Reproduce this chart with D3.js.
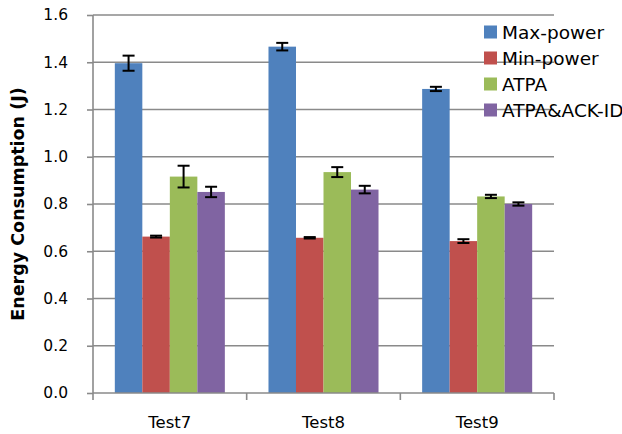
<!DOCTYPE html>
<html>
<head>
<meta charset="utf-8">
<script src="https://cdn.jsdelivr.net/npm/d3@7"></script>
<style>
  html, body { margin: 0; padding: 0; background: #fff; }
  svg { display: block; font-family: "DejaVu Sans", sans-serif; }
</style>
</head>
<body>
<svg id="chart" width="622" height="434"></svg>
<script>
const categories = ["Test7", "Test8", "Test9"];
const seriesNames = ["Max-power", "Min-power", "ATPA", "ATPA&ACK-ID"];
const colors = ["#4F81BD", "#C0504D", "#9BBB59", "#8064A2"];
const maxPower   = [1.396, 1.466, 1.287];
const minPower   = [0.662, 0.657, 0.643];
const atpa       = [0.916, 0.935, 0.832];
const atpaAck    = [0.851, 0.861, 0.800];
const maxPowerErr = [0.032, 0.016, 0.009];
const minPowerErr = [0.004, 0.003, 0.008];
const atpaErr     = [0.046, 0.021, 0.007];
const atpaAckErr  = [0.022, 0.016, 0.007];
const yTicks = [0, 0.2, 0.4, 0.6, 0.8, 1.0, 1.2, 1.4, 1.6];

const values = [maxPower, minPower, atpa, atpaAck];
const errs = [maxPowerErr, minPowerErr, atpaErr, atpaAckErr];

const svg = d3.select("#chart");
const pLeft = 93, pRight = 554, pTop = 15, pBottom = 393;

const x0 = d3.scaleBand().domain(categories).range([pLeft, pRight]).padding(0);
const bw = x0.bandwidth();
const gap = bw * 0.142;
const x1 = d3.scaleBand().domain(seriesNames).range([gap, bw - gap]).padding(0);
const y = d3.scaleLinear().domain([0, 1.6]).range([pBottom, pTop]);

// gridlines
svg.append("g").selectAll("line").data(yTicks.slice(1)).join("line")
  .attr("x1", pLeft).attr("x2", pRight)
  .attr("y1", d => y(d)).attr("y2", d => y(d))
  .attr("stroke", "#8a8a8a").attr("stroke-width", 1.6);

// bars
const data = [];
categories.forEach((c, i) => seriesNames.forEach((s, j) => {
  data.push({c, s, j, v: values[j][i], e: errs[j][i]});
}));

svg.append("g").selectAll("rect").data(data).join("rect")
  .attr("x", d => x0(d.c) + x1(d.s))
  .attr("width", x1.bandwidth())
  .attr("y", d => y(d.v))
  .attr("height", d => y(0) - y(d.v))
  .attr("fill", d => colors[d.j]);

// error bars
const eb = svg.append("g").attr("stroke", "#000").attr("stroke-width", 2);
data.forEach(d => {
  const cx = x0(d.c) + x1(d.s) + x1.bandwidth() / 2;
  const yt = y(d.v + d.e), yb = y(d.v - d.e);
  eb.append("line").attr("x1", cx).attr("x2", cx).attr("y1", yt).attr("y2", yb);
  eb.append("line").attr("x1", cx - 6).attr("x2", cx + 6).attr("y1", yt).attr("y2", yt);
  eb.append("line").attr("x1", cx - 6).attr("x2", cx + 6).attr("y1", yb).attr("y2", yb);
});

// y axis
const yAxis = d3.axisLeft(y).tickValues(yTicks).tickFormat(d3.format(".1f")).tickSize(6).tickPadding(19);
const gy = svg.append("g").attr("transform", `translate(${pLeft},0)`).call(yAxis);
gy.select(".domain").attr("stroke", "#8a8a8a").attr("stroke-width", 1.6).attr("d", `M0,${pTop}V${pBottom}`);
gy.selectAll(".tick line").attr("stroke", "#8a8a8a").attr("stroke-width", 1.6);
gy.selectAll(".tick text").attr("font-size", 15.5).attr("font-family", "DejaVu Sans").attr("fill", "#000");

// x axis
const gx = svg.append("g").attr("transform", `translate(0,${pBottom})`);
gx.append("line").attr("x1", pLeft).attr("x2", pRight).attr("y1", 0).attr("y2", 0)
  .attr("stroke", "#8a8a8a").attr("stroke-width", 1.6);
const bounds = categories.map(c => x0(c)).concat([pRight]);
gx.selectAll("line.tk").data(bounds).join("line").attr("class", "tk")
  .attr("x1", d => d).attr("x2", d => d).attr("y1", 0).attr("y2", 7)
  .attr("stroke", "#8a8a8a").attr("stroke-width", 1.6);
gx.selectAll("text").data(categories).join("text")
  .attr("x", d => x0(d) + bw / 2).attr("y", 35)
  .attr("text-anchor", "middle").attr("font-size", 16.5).attr("fill", "#000")
  .text(d => d);

// y title
svg.append("text")
  .attr("transform", `translate(24,${(pTop + pBottom) / 2}) rotate(-90)`)
  .attr("text-anchor", "middle").attr("font-weight", "bold").attr("font-size", 17.5)
  .attr("fill", "#000").text("Energy Consumption (J)");

// legend
const lg = svg.append("g");
const ly = [32, 58, 84, 110];
seriesNames.forEach((s, j) => {
  lg.append("rect").attr("x", 484).attr("y", ly[j] - 6.5).attr("width", 13).attr("height", 13).attr("fill", colors[j]);
  lg.append("text").attr("x", 502).attr("y", ly[j]).attr("dy", "0.36em")
    .attr("font-size", 18.5).attr("fill", "#000").text(s);
});
</script>
</body>
</html>
